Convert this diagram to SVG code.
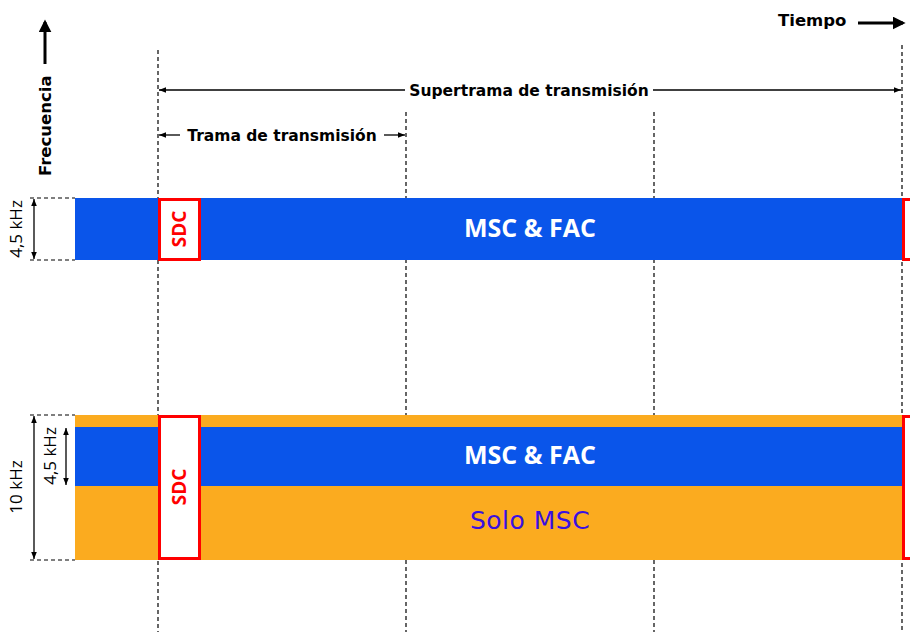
<svg xmlns="http://www.w3.org/2000/svg" width="910" height="632" viewBox="0 0 910 632">
<defs>
<style>
.grid{stroke:#000;stroke-width:1.2;stroke-dasharray:4 3;fill:none}
.dim{stroke:#000;stroke-width:1.3;fill:none}
.dash{stroke:#000;stroke-width:1.2;stroke-dasharray:4 3;fill:none}
.lbl{font-family:"DejaVu Sans",Verdana,sans-serif;font-weight:bold;font-size:15.5px;fill:#000}
.axis{font-family:"DejaVu Sans",Verdana,sans-serif;font-weight:bold;font-size:16.5px;fill:#000}
.band{font-family:"Open Sans","DejaVu Sans",sans-serif;font-weight:bold;font-size:25px;fill:#fff}
.sdc{font-family:"Open Sans","DejaVu Sans",sans-serif;font-weight:bold;font-size:19px;fill:#ff0000}
.khz{font-family:"Open Sans","DejaVu Sans",sans-serif;font-size:17px;fill:#000}
.sdcbox{fill:#fff;stroke:#ff0000;stroke-width:3}
.blue{fill:#0a55ea}
.orange{fill:#fbab1f}
</style>
<marker id="ah" viewBox="0 0 10 10" refX="10" refY="5" markerWidth="7" markerHeight="7" orient="auto-start-reverse" markerUnits="userSpaceOnUse">
<path d="M0,1 L10,5 L0,9 z" fill="#000"/>
</marker>
<marker id="bh" viewBox="0 0 10 10" refX="8" refY="5" markerWidth="13" markerHeight="13" orient="auto" markerUnits="userSpaceOnUse">
<path d="M0,0 L10,5 L0,10 z" fill="#000"/>
</marker>
</defs>

<g id="axis-frecuencia">
<line x1="45" y1="64" x2="45" y2="22" stroke="#000" stroke-width="3" marker-end="url(#bh)"/>
<text class="axis" transform="translate(51,176) rotate(-90)">Frecuencia</text>
</g>
<g id="axis-tiempo">
<text class="axis" x="778" y="26">Tiempo</text>
<line x1="858" y1="23" x2="903" y2="23" stroke="#000" stroke-width="3" marker-end="url(#bh)"/>
</g>

<g id="grid">
<line class="grid" x1="158" y1="50" x2="158" y2="632"/>
<line class="grid" x1="406" y1="112" x2="406" y2="632"/>
<line class="grid" x1="654" y1="112" x2="654" y2="632"/>
<line class="grid" x1="902" y1="45" x2="902" y2="632"/>
</g>

<g id="band1">
<rect class="blue" x="75" y="198" width="828" height="62"/>
<text class="band" x="530" y="237" text-anchor="middle">MSC &amp; FAC</text>
</g>
<g id="sdc1">
<rect class="sdcbox" x="159.5" y="199.5" width="40" height="60"/>
<text class="sdc" transform="translate(186,229) rotate(-90)" text-anchor="middle">SDC</text>
</g>
<g id="sdc1-next">
<rect class="sdcbox" x="903.5" y="199.5" width="20" height="60"/>
</g>

<g id="band2">
<rect class="orange" x="75" y="415" width="828" height="145"/>
<rect class="blue" x="75" y="427" width="828" height="59"/>
<text class="band" x="530" y="464" text-anchor="middle">MSC &amp; FAC</text>
<text x="530" y="529" text-anchor="middle" font-family="'DejaVu Sans',Verdana,sans-serif" font-size="25" letter-spacing="0.5" fill="#3a10e0">Solo MSC</text>
</g>
<g id="sdc2">
<rect class="sdcbox" x="159.5" y="416.5" width="40" height="142"/>
<text class="sdc" transform="translate(186,487) rotate(-90)" text-anchor="middle">SDC</text>
</g>
<g id="sdc2-next">
<rect class="sdcbox" x="903.5" y="416.5" width="20" height="142"/>
</g>

<g id="connectors">
<line class="dim" x1="405" y1="90" x2="159" y2="90" marker-end="url(#ah)"/>
<line class="dim" x1="653" y1="90" x2="901" y2="90" marker-end="url(#ah)"/>
<line class="dim" x1="180" y1="135" x2="159" y2="135" marker-end="url(#ah)"/>
<line class="dim" x1="384" y1="135" x2="405" y2="135" marker-end="url(#ah)"/>

<line class="dash" x1="30" y1="198" x2="75" y2="198"/>
<line class="dash" x1="30" y1="260" x2="75" y2="260"/>
<line class="dim" x1="34" y1="199" x2="34" y2="259" marker-start="url(#ah)" marker-end="url(#ah)"/>

<line class="dash" x1="30" y1="415" x2="75" y2="415"/>
<line class="dash" x1="30" y1="560" x2="75" y2="560"/>
<line class="dim" x1="34" y1="416" x2="34" y2="559" marker-start="url(#ah)" marker-end="url(#ah)"/>
<line class="dim" x1="66" y1="428" x2="66" y2="485" marker-start="url(#ah)" marker-end="url(#ah)"/>
</g>

<g id="labels">
<text class="lbl" x="529" y="96" text-anchor="middle">Supertrama de transmisión</text>
<text class="lbl" x="282" y="141" text-anchor="middle">Trama de transmisión</text>
<text class="khz" transform="translate(22,229) rotate(-90)" text-anchor="middle">4,5 kHz</text>
<text class="khz" transform="translate(22,487) rotate(-90)" text-anchor="middle">10 kHz</text>
<text class="khz" transform="translate(56,456) rotate(-90)" text-anchor="middle">4,5 kHz</text>
</g>
</svg>
